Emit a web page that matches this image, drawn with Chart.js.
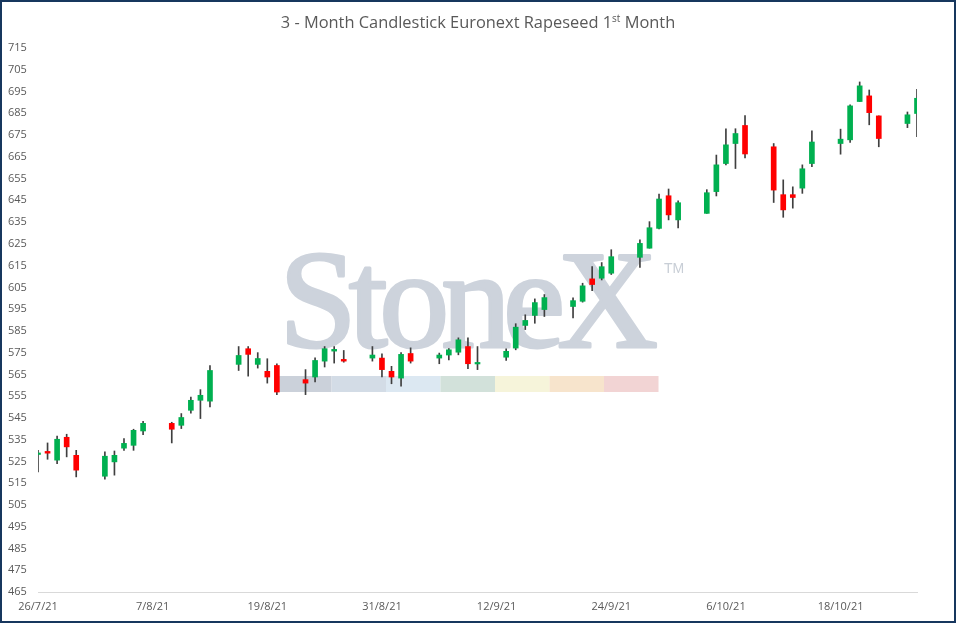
<!DOCTYPE html>
<html>
<head>
<meta charset="utf-8">
<script src="https://cdn.jsdelivr.net/npm/chart.js@4.4.0/dist/chart.umd.min.js"></script>
<style>
  body { margin: 0; background: #fff; }
  #wrap { position: relative; width: 956px; height: 623px; }
  #title {
    position: absolute; left: 0; top: 10px; width: 956px; text-align: center;
    font-family: "Open Sans", sans-serif; font-size: 16.4px; color: #595959;
  }
  #title sup { font-size: 10px; vertical-align: 6px; line-height: 0; }
  canvas { position: absolute; left: 0; top: 0; }
</style>
</head>
<body>
<div id="wrap">
  <canvas id="chart" width="956" height="623"></canvas>
  <div id="title">3 - Month Candlestick Euronext Rapeseed 1<sup>st</sup> Month</div>
</div>
<script>
// trading days, first one is the left edge of the axis
const dates = [
  '2021-07-26', '2021-07-27', '2021-07-28', '2021-07-29', '2021-07-30',
  '2021-08-02', '2021-08-03', '2021-08-04', '2021-08-05', '2021-08-06',
  '2021-08-09', '2021-08-10', '2021-08-11', '2021-08-12', '2021-08-13',
  '2021-08-16', '2021-08-17', '2021-08-18', '2021-08-19', '2021-08-20',
  '2021-08-23', '2021-08-24', '2021-08-25', '2021-08-26', '2021-08-27',
  '2021-08-30', '2021-08-31', '2021-09-01', '2021-09-02', '2021-09-03',
  '2021-09-06', '2021-09-07', '2021-09-08', '2021-09-09', '2021-09-10',
  '2021-09-13', '2021-09-14', '2021-09-15', '2021-09-16', '2021-09-17',
  '2021-09-20', '2021-09-21', '2021-09-22', '2021-09-23', '2021-09-24',
  '2021-09-27', '2021-09-28', '2021-09-29', '2021-09-30', '2021-10-01',
  '2021-10-04', '2021-10-05', '2021-10-06', '2021-10-07', '2021-10-08',
  '2021-10-11', '2021-10-12', '2021-10-13', '2021-10-14', '2021-10-15',
  '2021-10-18', '2021-10-19', '2021-10-20', '2021-10-21', '2021-10-22',
  '2021-10-25', '2021-10-26'
];

const openPrices = [
  528.2, 529.6, 525.6, 536.1, 527.8,
  518.2, 524.8, 531.1, 532.4, 539.0,
  542.5, 541.6, 548.5, 553.1, 552.7,
  569.6, 576.8, 569.6, 566.4, 569.1,
  562.6, 563.8, 571.1, 575.7, 571.9,
  572.5, 572.5, 566.4, 563.3, 574.6,
  572.5, 573.9, 575.2, 577.8, 569.8,
  572.9, 577.1, 587.5, 592.1, 594.8,
  596.2, 598.6, 608.9, 609.2, 611.5,
  618.8, 623.0, 632.1, 647.1, 636.0,
  639.0, 649.0, 661.9, 671.1, 679.4,
  669.6, 647.6, 647.6, 650.6, 661.9,
  671.1, 672.8, 690.4, 693.0, 683.8,
  680.3, 684.9
];
const highPrices = [
  530.1, 533.5, 536.6, 537.5, 530.1,
  529.4, 529.8, 535.5, 539.8, 543.4,
  543.0, 547.0, 554.6, 558.0, 569.1,
  577.8, 577.8, 575.0, 572.2, 569.9,
  567.2, 572.6, 577.8, 577.8, 576.0,
  577.8, 574.5, 568.7, 575.0, 577.2,
  574.8, 576.9, 581.8, 581.8, 577.8,
  576.8, 588.3, 592.4, 599.7, 601.7,
  600.2, 606.9, 614.5, 616.4, 622.3,
  626.8, 635.2, 647.9, 650.2, 644.8,
  649.9, 665.8, 677.9, 677.9, 684.0,
  671.1, 654.4, 651.2, 661.3, 676.9,
  677.7, 688.9, 699.4, 695.7, 683.8,
  685.6, 696.0
];
const lowPrices = [
  520.2, 526.0, 524.0, 527.1, 517.9,
  516.8, 518.7, 530.1, 530.1, 537.3,
  533.5, 540.1, 547.2, 544.7, 550.0,
  566.8, 564.2, 567.9, 561.0, 555.7,
  555.7, 561.5, 568.4, 570.2, 570.6,
  571.1, 563.8, 560.7, 559.6, 570.2,
  569.9, 571.7, 574.0, 567.6, 567.2,
  571.4, 576.3, 585.6, 588.5, 591.6,
  591.0, 598.2, 603.5, 608.4, 610.9,
  614.2, 623.0, 631.8, 636.0, 632.3,
  639.0, 647.0, 661.3, 659.6, 664.5,
  644.0, 637.2, 641.4, 648.2, 660.5,
  666.2, 671.6, 690.4, 679.7, 669.6,
  678.4, 674.3
];
const closePrices = [
  528.9, 528.8, 535.2, 531.7, 521.0,
  527.4, 527.8, 533.3, 539.3, 542.5,
  539.8, 545.2, 553.1, 555.4, 566.8,
  573.7, 574.2, 572.3, 563.8, 556.9,
  561.0, 571.4, 576.8, 576.5, 571.1,
  573.9, 567.2, 563.8, 574.2, 571.1,
  573.9, 576.3, 580.9, 569.9, 570.5,
  575.6, 586.7, 589.8, 598.0, 600.3,
  598.9, 605.7, 606.3, 614.5, 619.1,
  625.2, 632.4, 645.6, 638.3, 643.9,
  648.5, 661.3, 670.5, 675.7, 666.3,
  649.7, 640.6, 646.3, 659.5, 671.8,
  673.1, 688.4, 697.6, 685.3, 673.4,
  684.3, 691.9
];

const tickLabels = ['26/7/21', '7/8/21', '19/8/21', '31/8/21', '12/9/21', '24/9/21', '6/10/21', '18/10/21'];
const tickStepDays = 12;

const DAY = 86400000;
const start = Date.parse(dates[0]);
const dayIndex = dates.map(d => Math.round((Date.parse(d) - start) / DAY));
const lastDay = dayIndex[dayIndex.length - 1];

const UP = '#00B050';
const DOWN = '#FF0000';

const bodies = dayIndex.map((x, i) => ({ x: x, y: [openPrices[i], closePrices[i]] }));
const wicks = dayIndex.map((x, i) => ({ x: x, y: [lowPrices[i], highPrices[i]] }));
const bodyColors = closePrices.map((c, i) => c >= openPrices[i] ? UP : DOWN);

// faded logo behind the candles
const watermark = {
  id: 'watermark',
  beforeDatasetsDraw(chart) {
    const ctx = chart.ctx;
    ctx.save();
    const strip = ['#CBD1DA', '#D3DCE6', '#DCE8F2', '#D2E1DA', '#F6F4DA', '#F7E4CC', '#F2D4D4'];
    strip.forEach((c, i) => {
      ctx.fillStyle = c;
      ctx.fillRect(277 + i * 54.5, 376, 54.5, 16);
    });

    // tight, slightly heavy serif word, laid out letter by letter
    const word = 'StoneX';
    ctx.font = '140px "Liberation Serif", serif';
    ctx.textBaseline = 'alphabetic';
    ctx.fillStyle = '#CDD3DC';
    ctx.strokeStyle = '#CDD3DC';
    ctx.lineWidth = 3;
    ctx.lineJoin = 'round';
    const advances = [...word].map(ch => ctx.measureText(ch).width);
    const natural = advances.reduce((a, b) => a + b, 0);
    const gap = (379 - natural) / (word.length - 1);
    let x = 279;
    [...word].forEach((ch, i) => {
      ctx.fillText(ch, x, 347);
      ctx.strokeText(ch, x, 347);
      x += advances[i] + gap;
    });
    ctx.restore();

    ctx.save();
    ctx.fillStyle = '#C8CED6';
    ctx.font = '14px "Liberation Sans", sans-serif';
    ctx.fillText('TM', 664, 273);
    ctx.restore();
  },
  afterDraw(chart) {
    const ctx = chart.ctx;
    ctx.save();
    ctx.strokeStyle = '#17375E';
    ctx.lineWidth = 2;
    ctx.strokeRect(1, 1, chart.width - 2, chart.height - 2);
    ctx.restore();
  }
};

new Chart(document.getElementById('chart'), {
  type: 'bar',
  data: {
    datasets: [
      {
        label: 'Open / Close',
        data: bodies,
        backgroundColor: bodyColors,
        barThickness: 5,
        grouped: false,
        order: 0
      },
      {
        label: 'High / Low',
        data: wicks,
        backgroundColor: '#3F3F3F',
        barThickness: 1,
        grouped: false,
        order: 1
      }
    ]
  },
  options: {
    responsive: false,
    animation: false,
    layout: { padding: { left: 8, right: 39, top: 48, bottom: 9 } },
    plugins: {
      legend: { display: false },
      tooltip: { enabled: false },
      title: { display: false }
    },
    scales: {
      x: {
        type: 'linear',
        offset: false,
        min: 0,
        max: lastDay,
        grid: { display: false, drawTicks: false },
        border: { display: true, color: '#D9D9D9', width: 1 },
        ticks: {
          stepSize: tickStepDays,
          autoSkip: false,
          maxRotation: 0,
          padding: 8,
          color: '#595959',
          font: { family: 'Open Sans', size: 11 },
          callback: v => v % tickStepDays === 0 ? tickLabels[v / tickStepDays] : null
        },
        afterFit: s => { s.height = 22; }
      },
      y: {
        min: 465,
        max: 715,
        beginAtZero: false,
        grid: { display: false, drawTicks: false },
        border: { display: false },
        ticks: {
          stepSize: 10,
          crossAlign: 'far',
          padding: 0,
          color: '#595959',
          font: { family: 'Open Sans', size: 11 }
        },
        afterFit: s => { s.width = 30; }
      }
    }
  },
  plugins: [watermark]
});
</script>
</body>
</html>
